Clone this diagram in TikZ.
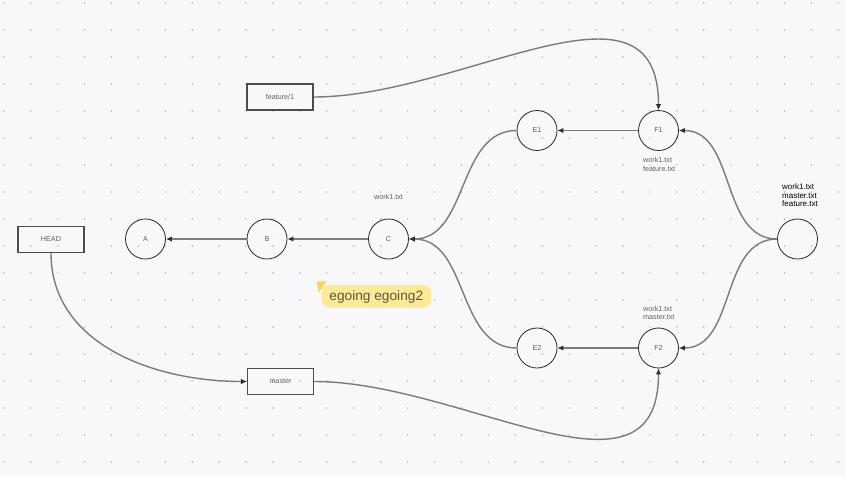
\documentclass[tikz,border=0pt]{standalone}
\usepackage{fontspec}
\setmainfont{Liberation Sans}
\usetikzlibrary{arrows.meta}
\definecolor{bg}{RGB}{248,248,250}
\definecolor{dotc}{RGB}{180,180,186}
\definecolor{edgec}{RGB}{122,122,128}
\definecolor{tipc}{RGB}{45,45,50}
\definecolor{circc}{RGB}{40,40,45}
\definecolor{boxc}{RGB}{75,75,80}
\definecolor{lblc}{RGB}{95,95,100}
\definecolor{notec}{RGB}{253,234,150}
\definecolor{notetri}{RGB}{248,214,96}
\definecolor{notetext}{RGB}{88,86,70}
\begin{document}
\begin{tikzpicture}[x=1pt,y=1pt,
  commit/.style={circle,draw=circc,line width=0.8pt,minimum size=40pt,inner sep=0pt,
    font=\fontsize{7.2}{8}\selectfont,text=lblc},
  branch/.style={rectangle,draw=boxc,line width=1.1pt,minimum width=66pt,minimum height=26pt,
    inner sep=0pt,font=\fontsize{7.2}{8}\selectfont,text=lblc},
  link/.style={draw=edgec,line width=1.4pt,-{Latex[length=6pt,width=5.5pt,color=tipc]}},
  files/.style={font=\fontsize{7.2}{8.3}\selectfont,text=lblc,align=left,inner sep=0pt},
  filesdark/.style={font=\fontsize{8}{8.6}\selectfont,text=black,align=left,inner sep=0pt},
  note/.style={rectangle,rounded corners=8pt,fill=notec,minimum width=109.5pt,minimum height=23pt,
    inner sep=0pt,font=\fontsize{13.7}{16}\selectfont,text=notetext}
]
\useasboundingbox (0,0) rectangle (845,-477);
\fill[bg] (0,0) rectangle (845,-477);
% dot grid
\foreach \i in {0,...,31}{
  \foreach \j in {0,...,17}{
    \fill[dotc] ({3.8+26.92*\i},{-3-27*\j}) circle (0.85pt);
  }
}
% branch boxes
\node[branch] (head) at (51,-239.5) {HEAD};
\node[branch] (feat) at (280,-97) {feature/1};
\node[branch] (master) at (280.5,-381.5) {master};
% commits
\node[commit] (A) at (145.5,-239) {A};
\node[commit] (B) at (267,-239) {B};
\node[commit] (C) at (388.5,-239) {C};
\node[commit] (E1) at (537,-130.5) {E1};
\node[commit] (F1) at (658.5,-130.5) {F1};
\node[commit] (E2) at (537,-348) {E2};
\node[commit] (F2) at (658.5,-348) {F2};
\node[commit] (R) at (797.5,-239) {};
% file labels
\node[files,anchor=center] (lc) at (388.5,-196.5) {work1.txt};
\node[files,anchor=north west] (lf1) at (643,-157.3) {work1.txt\\feature.txt};
\node[files,anchor=north west] (lf2) at (643,-306) {work1.txt\\master.txt};
\node[filesdark,anchor=north west] (lr) at (782,-183.5) {work1.txt\\master.txt\\feature.txt};
% sticky note
\fill[notetri] (316.5,-281.3) -- (326.7,-281.3) -- (318.8,-293) -- cycle;
\node[note] (sticky) at (376.3,-296.5) {egoing egoing2};
% connectors
\draw[link] (B) -- (A);
\draw[link] (C) -- (B);
\draw[link] (F1) -- (E1);
\draw[link] (F2) -- (E2);
\draw[link] (E1.west) to[out=180,in=0] (C.east);
\draw[link] (E2.west) to[out=180,in=0] (C.east);
\draw[link] (R.west) to[out=180,in=0] (F1.east);
\draw[link] (R.west) to[out=180,in=0] (F2.east);
\draw[link] (feat.east) to[out=0,in=90,looseness=1.1] (F1.north);
\draw[link] (master.east) to[out=0,in=-90,looseness=1.1] (F2.south);
\draw[link] (head.south) to[out=-90,in=180] (master.west);
\end{tikzpicture}
\end{document}
